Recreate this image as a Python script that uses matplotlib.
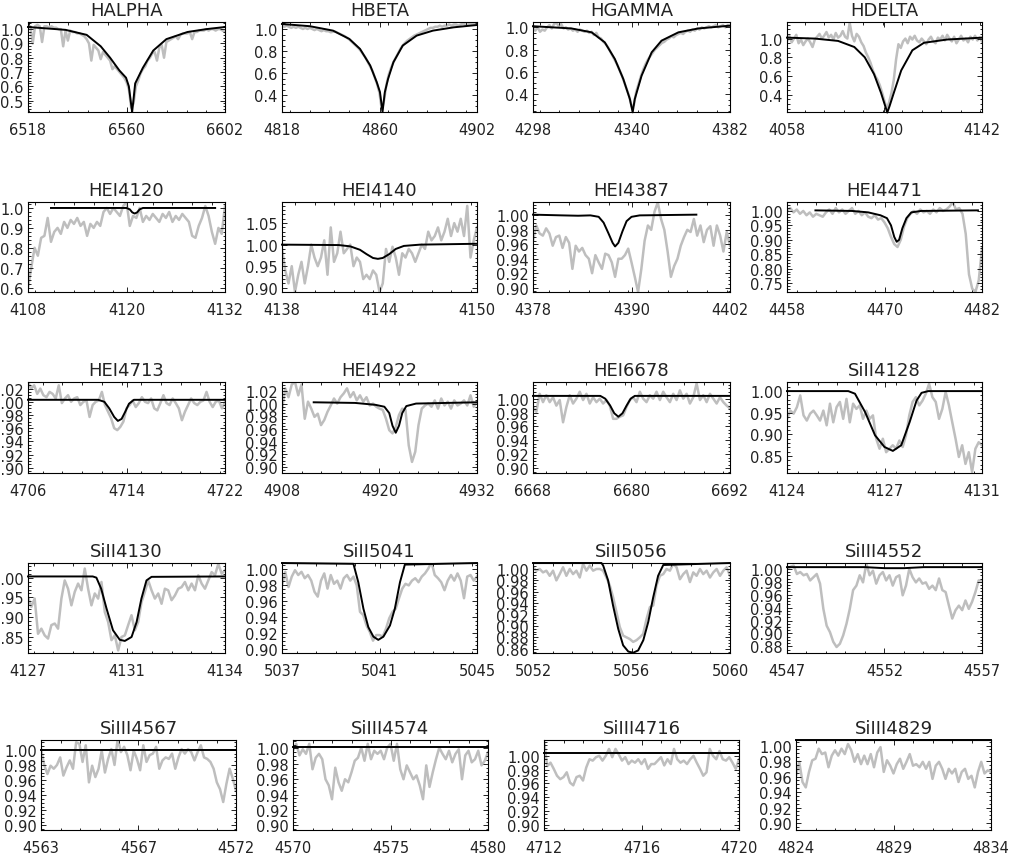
import matplotlib
matplotlib.use("Agg")
import matplotlib.pyplot as plt
from matplotlib.ticker import FixedLocator, MultipleLocator, AutoMinorLocator, FormatStrFormatter
import numpy as np

plt.rcParams['font.family'] = ['DejaVu Sans']

W, H = 1010, 854
GRAY = '#bebebe'

# ---------------- data (observed = gray, model = black) ----------------
halpha_rng = (6518, 6602)
halpha_obs = [1.02, 1.02, 0.90, 1.02, 1.03, 1.02, 0.91, 1.02, 1.02, 1.01,
              1.02, 1.01, 1.01, 1.00, 1.00, 0.88, 0.99, 0.92, 0.99, 0.98,
              0.98, 0.97, 0.97, 0.96, 0.95, 0.93, 0.90, 0.78, 0.89, 0.87,
              0.85, 0.79, 0.84, 0.82, 0.80, 0.78, 0.72, 0.74, 0.72, 0.70,
              0.68, 0.66, 0.63, 0.58, 0.45, 0.48, 0.60, 0.64, 0.69, 0.72,
              0.74, 0.78, 0.80, 0.83, 0.84, 0.78, 0.87, 0.89, 0.80, 0.91,
              0.92, 0.93, 0.94, 0.95, 0.93, 0.96, 0.97, 0.97, 0.97, 0.98,
              0.93, 0.98, 0.98, 0.99, 0.99, 0.99, 1.00, 0.99, 1.00, 1.00,
              0.99, 1.00, 1.00, 0.99, 0.98]
halpha_mx = [6518, 6534, 6543, 6549, 6553, 6557, 6559.8, 6561.0, 6562.0, 6562.4,
             6563.0, 6563.7, 6564.6, 6567, 6571.4, 6577, 6586, 6594, 6602]
halpha_my = [1.015, 0.995, 0.96, 0.88, 0.80, 0.71, 0.66, 0.60, 0.47, 0.42,
             0.51, 0.62, 0.65, 0.73, 0.85, 0.93, 0.98, 1.00, 1.015]

hbeta_rng = (4818, 4902)
hbeta_obs = [1.03, 1.02, 1.03, 1.02, 1.01, 1.02, 1.01, 1.02, 1.01, 1.00,
             1.01, 1.00, 1.01, 1.00, 0.99, 1.00, 0.99, 0.98, 0.99, 0.98,
             0.98, 0.97, 0.975, 0.975, 0.965, 0.955, 0.945, 0.935, 0.92, 0.905,
             0.885, 0.865, 0.845, 0.825, 0.80, 0.77, 0.74, 0.70, 0.66, 0.62,
             0.56, 0.50, 0.42, 0.27, 0.36, 0.50, 0.59, 0.65, 0.70, 0.74,
             0.78, 0.82, 0.85, 0.875, 0.895, 0.91, 0.925, 0.94, 0.95, 0.96,
             0.97, 0.98, 0.99, 1.00, 1.01, 1.01, 1.02, 1.02, 1.03, 1.02,
             1.03, 1.03, 1.04, 1.03, 1.04, 1.04, 1.03, 1.04, 1.05, 1.04,
             1.04, 1.05, 1.04, 1.05, 1.05]
hbeta_mx = [4818, 4830, 4840, 4847, 4851.6, 4856, 4858.8, 4860.2, 4861.3, 4862.3,
            4863.7, 4866, 4870, 4876, 4883, 4892, 4902]
hbeta_my = [1.045, 1.025, 0.985, 0.91, 0.82, 0.67, 0.52, 0.43, 0.25, 0.43,
            0.55, 0.70, 0.85, 0.94, 0.985, 1.015, 1.036]

hgamma_rng = (4298, 4382)
hgamma_obs = [0.99, 0.97, 1.00, 0.96, 0.98, 0.97, 1.00, 1.02, 0.99, 1.03,
              1.04, 1.01, 1.03, 0.99, 1.00, 0.98, 0.99, 0.97, 0.98, 0.96,
              0.98, 0.97, 0.96, 0.97, 0.95, 0.96, 0.93, 0.95, 0.91, 0.90,
              0.87, 0.85, 0.82, 0.78, 0.74, 0.70, 0.66, 0.61, 0.56, 0.50,
              0.44, 0.38, 0.29, 0.30, 0.42, 0.49, 0.56, 0.62, 0.67, 0.71,
              0.74, 0.77, 0.80, 0.82, 0.84, 0.86, 0.87, 0.89, 0.90, 0.92,
              0.91, 0.93, 0.94, 0.95, 0.94, 0.96, 0.97, 0.96, 0.98, 0.97,
              0.99, 0.98, 1.00, 0.99, 1.00, 1.01, 1.00, 1.01, 1.02, 1.00,
              1.01, 1.02, 1.00, 1.02, 1.01]
hgamma_mx = [4298, 4314.4, 4323, 4328.6, 4332.9, 4336.5, 4339.3, 4340.5, 4341.4,
             4344.3, 4348.6, 4352.8, 4360, 4368.5, 4382]
hgamma_my = [1.01, 0.99, 0.955, 0.865, 0.715, 0.535, 0.355, 0.235, 0.355,
             0.565, 0.775, 0.88, 0.955, 0.99, 1.015]

hdelta_rng = (4058, 4142)
hdelta_obs = [0.97, 1.03, 0.96, 1.00, 1.04, 0.95, 0.99, 0.93, 0.97, 1.00,
              0.96, 0.91, 0.99, 1.02, 1.05, 1.00, 1.03, 1.07, 1.01, 1.04,
              0.99, 1.06, 1.01, 1.03, 1.08, 1.02, 1.00, 1.17, 1.03, 0.97,
              1.05, 1.02, 0.96, 0.92, 0.85, 0.80, 0.74, 0.66, 0.60, 0.56,
              0.50, 0.42, 0.33, 0.25, 0.32, 0.42, 0.56, 0.78, 0.94, 0.90,
              0.97, 1.00, 0.95, 1.02, 0.99, 1.03, 0.98, 0.96, 1.00, 0.97,
              0.94, 0.99, 1.02, 0.97, 0.95, 1.01, 0.99, 1.03, 0.98, 1.04,
              1.00, 0.97, 1.02, 0.95, 0.99, 1.03, 0.98, 1.00, 0.96, 1.02,
              0.99, 1.03, 0.98, 1.01, 0.97]
hdelta_mx = [4058, 4070, 4080, 4087, 4091.5, 4095.5, 4098.5, 4100.3, 4101.2,
             4102.2, 4104, 4107.2, 4112, 4117, 4127, 4142]
hdelta_my = [1.01, 1.0, 0.975, 0.91, 0.80, 0.62, 0.42, 0.28, 0.21,
             0.28, 0.42, 0.66, 0.875, 0.955, 0.99, 1.01]

hei4120_rng = (4108, 4132)
hei4120_obs = [0.60, 0.70, 0.80, 0.76, 0.85, 0.86, 0.95, 0.83, 0.88, 0.90,
               0.87, 0.93, 0.90, 0.94, 0.92, 0.95, 0.91, 0.93, 0.86, 0.92,
               0.90, 0.93, 0.91, 0.98, 1.00, 0.97, 1.00, 0.98, 0.96, 1.01,
               1.03, 0.91, 0.96, 0.95, 1.00, 0.93, 0.96, 0.94, 0.97, 0.95,
               0.93, 0.97, 0.95, 0.98, 0.93, 0.96, 0.94, 0.97, 0.95, 0.93,
               0.86, 0.85, 0.91, 0.95, 1.01, 0.96, 0.88, 0.82, 0.90, 0.87,
               1.01]
hei4120_mx = [4110.8, 4120.0, 4120.4, 4120.7, 4121.0, 4121.3, 4121.6, 4122.0, 4130.8]
hei4120_my = [1.0, 1.0, 0.993, 0.978, 0.972, 0.978, 0.993, 1.0, 1.0]

hei4140_rng = (4138, 4150)
hei4140_obs = [0.99, 0.94, 0.91, 0.95, 0.89, 0.93, 0.96, 0.91, 0.95, 1.00,
               0.97, 0.95, 0.97, 1.01, 0.93, 1.04, 0.96, 0.98, 1.03, 0.98,
               0.99, 1.00, 0.95, 0.97, 0.96, 0.92, 0.93, 0.92, 0.94, 0.93,
               0.89, 0.91, 0.99, 0.96, 0.995, 0.97, 0.93, 0.98, 0.97, 0.99,
               0.98, 0.96, 0.98, 1.00, 0.99, 1.03, 1.01, 1.02, 1.04, 1.01,
               1.03, 1.06, 1.02, 1.05, 1.03, 1.06, 1.02, 1.09, 0.97, 1.01,
               1.04]
hei4140_mx = [4138, 4141.5, 4142.2, 4142.8, 4143.2, 4143.6, 4143.9, 4144.2, 4144.6,
              4145.0, 4145.5, 4146.5, 4150]
hei4140_my = [1.0, 0.999, 0.996, 0.988, 0.978, 0.969, 0.967, 0.969, 0.978,
              0.99, 0.997, 1.0, 1.002]

hei4387_rng = (4378, 4402)
hei4387_obs = [0.965, 0.986, 0.975, 0.972, 0.982, 0.975, 0.958, 0.97, 0.972, 0.955,
               0.97, 0.962, 0.926, 0.958, 0.95, 0.955, 0.945, 0.94, 0.92, 0.945,
               0.935, 0.926, 0.947, 0.945, 0.935, 0.915, 0.94, 0.94, 0.945, 0.954,
               0.935, 0.915, 0.894, 0.926, 0.965, 0.986, 0.98, 1.005, 1.018, 0.995,
               0.98, 0.95, 0.915, 0.93, 0.94, 0.958, 0.97, 0.98, 0.977, 0.995,
               0.972, 0.986, 0.963, 0.98, 0.985, 0.958, 0.986, 0.972, 0.95, 0.977,
               0.958]
hei4387_mx = [4378, 4381.5, 4383.5, 4385, 4386.0, 4386.6, 4387.2, 4387.7, 4388.0,
              4388.4, 4388.9, 4389.4, 4390.0, 4391, 4397.9]
hei4387_my = [1.001, 1.0, 0.9995, 1.0, 0.998, 0.99, 0.975, 0.962, 0.957,
              0.962, 0.978, 0.992, 0.998, 1.0, 1.001]

hei4471_rng = (4458, 4482)
hei4471_obs = [1.00, 1.01, 0.995, 1.005, 0.99, 1.00, 0.985, 0.995, 0.98, 0.99,
               0.985, 0.98, 0.995, 1.005, 0.99, 1.01, 0.995, 1.005, 0.99, 1.00,
               1.01, 0.99, 1.00, 0.985, 0.995, 0.98, 0.975, 0.985, 0.97, 0.975,
               0.96, 0.94, 0.91, 0.885, 0.875, 0.90, 0.945, 0.975, 0.99, 1.00,
               0.99, 1.005, 0.995, 1.00, 0.99, 1.005, 0.995, 1.01, 1.00, 1.005,
               1.015, 1.03, 1.005, 1.01, 0.99, 0.92, 0.78, 0.73, 0.72, 0.76,
               0.87]
hei4471_mx = [4461.5, 4466, 4468, 4469.5, 4470.3, 4470.8, 4471.2, 4471.5, 4471.8,
              4472.2, 4472.7, 4473.3, 4474.5, 4481.5]
hei4471_my = [1.002, 1.0, 0.995, 0.985, 0.975, 0.95, 0.91, 0.893, 0.90,
              0.94, 0.975, 0.995, 1.0, 1.002]

hei4713_rng = (4706, 4722)
hei4713_obs = [1.03, 1.02, 1.025, 1.012, 1.02, 1.01, 1.007, 1.015, 1.012, 1.005,
               1.025, 0.998, 1.005, 1.01, 1.0, 1.005, 1.007, 0.995, 1.0, 1.002,
               0.977, 0.995, 1.0, 1.002, 1.015, 0.995, 0.985, 0.975, 0.96, 0.957,
               0.962, 0.97, 0.99, 0.995, 1.002, 0.992, 0.998, 1.007, 1.0, 0.998,
               1.005, 0.99, 0.987, 0.998, 1.01, 0.998, 0.995, 1.005, 0.998, 0.99,
               0.972, 0.985, 0.995, 1.005, 0.998, 0.995, 1.0, 1.002, 1.015, 1.0,
               0.992, 1.0, 1.002, 0.99, 1.0]
hei4713_mx = [4706, 4711.7, 4712.2, 4712.6, 4713.0, 4713.3, 4713.6, 4713.9, 4714.2,
              4714.6, 4722]
hei4713_my = [1.003, 1.003, 1.0, 0.99, 0.977, 0.971, 0.974, 0.985, 0.997,
              1.003, 1.003]

hei4922_rng = (4908, 4932)
hei4922_obs = [0.99, 1.024, 1.01, 1.03, 1.034, 1.013, 1.03, 0.976, 1.003, 0.992,
               0.979, 0.984, 0.966, 0.974, 0.987, 0.997, 1.008, 1.0, 1.01, 1.016,
               1.024, 1.01, 1.018, 1.005, 1.013, 1.003, 1.01, 0.997, 1.0, 0.995,
               0.992, 0.99, 0.976, 0.958, 0.953, 0.963, 0.982, 0.992, 0.99, 0.934,
               0.908, 0.924, 0.966, 0.992, 0.997, 1.0, 0.995, 1.005, 0.992, 1.008,
               0.997, 1.003, 0.992, 1.005, 0.997, 1.0, 1.005, 0.997, 1.013, 0.995,
               1.003]
hei4922_mx = [4911.9, 4917, 4919.5, 4920.6, 4921.2, 4921.6, 4922.0, 4922.4, 4922.8,
              4923.3, 4924.5, 4932]
hei4922_my = [1.002, 1.001, 0.998, 0.995, 0.985, 0.965, 0.954, 0.965, 0.985,
              0.996, 1.0, 1.002]

hei6678_rng = (6668, 6692)
hei6678_obs = [0.988, 0.981, 1.007, 0.995, 1.005, 0.995, 1.002, 0.99, 0.998, 0.966,
               0.988, 1.005, 0.993, 1.0, 1.01, 0.998, 1.007, 0.993, 1.002, 0.995,
               1.0, 0.993, 0.998, 0.99, 0.971, 0.971, 0.974, 0.976, 0.988, 0.998,
               1.002, 0.995, 1.01, 1.0, 0.995, 1.005, 1.0, 1.01, 0.998, 1.01,
               1.002, 0.995, 1.007, 0.998, 1.012, 1.0, 1.007, 0.993, 1.002, 1.022,
               0.998, 1.005, 0.995, 1.007, 1.0, 0.993, 1.002, 0.995, 0.99, 0.986]
hei6678_mx = [6668, 6676.2, 6676.8, 6677.4, 6677.9, 6678.4, 6678.9, 6679.4, 6679.9,
              6680.4, 6692]
hei6678_my = [1.004, 1.004, 1.0, 0.99, 0.979, 0.974, 0.979, 0.99, 1.0,
              1.004, 1.004]

siii4128_rng = (4124, 4131)
siii4128_obs = [0.936, 0.955, 0.948, 0.963, 0.99, 0.944, 0.932, 0.948, 0.955, 0.944,
                0.932, 0.955, 0.921, 0.971, 0.928, 0.963, 0.975, 0.936, 0.982, 0.928,
                0.971, 0.959, 0.967, 0.936, 0.955, 0.936, 0.944, 0.89, 0.867, 0.89,
                0.859, 0.867, 0.875, 0.867, 0.886, 0.871, 0.898, 0.944, 0.975, 0.986,
                0.967, 0.978, 0.994, 1.017, 0.986, 0.975, 0.936, 0.959, 0.998, 0.967,
                0.928, 0.89, 0.848, 0.875, 0.832, 0.859, 0.813, 0.867, 0.882, 0.875]
siii4128_mx = [4124, 4126.2, 4126.44, 4126.8, 4127.16, 4127.5, 4127.8, 4128.1, 4128.4,
               4128.65, 4128.83, 4129.07, 4131]
siii4128_my = [1.0, 1.0, 0.994, 0.952, 0.898, 0.871, 0.862, 0.875, 0.928,
               0.978, 0.996, 1.0, 1.0]

siii4130_rng = (4127, 4134)
siii4130_obs = [0.951, 0.926, 0.947, 0.858, 0.871, 0.854, 0.846, 0.88, 0.884, 0.871,
                0.947, 0.993, 0.972, 0.93, 0.964, 0.985, 0.968, 1.023, 0.972, 0.93,
                0.96, 0.947, 0.989, 0.913, 0.888, 0.842, 0.854, 0.816, 0.85, 0.854,
                0.88, 0.905, 0.867, 0.888, 0.938, 0.964, 0.993, 0.968, 0.947, 0.96,
                0.934, 0.972, 0.968, 0.943, 0.955, 0.972, 0.976, 0.989, 0.968, 0.985,
                0.968, 1.006, 0.985, 0.972, 0.993, 1.014, 1.006, 1.035, 1.01, 1.019]
siii4130_mx = [4127, 4129.3, 4129.43, 4129.6, 4129.79, 4130.02, 4130.26, 4130.44, 4130.68,
               4130.86, 4131.03, 4131.21, 4131.39, 4134]
siii4130_my = [1.003, 1.003, 1.0, 0.972, 0.922, 0.867, 0.843, 0.84, 0.85,
               0.888, 0.947, 0.993, 1.002, 1.003]

siii5041_rng = (5037, 5045)
siii5041_obs = [0.979, 0.996, 0.977, 0.99, 0.998, 0.992, 0.996, 0.988, 0.992, 0.985,
                0.971, 0.965, 0.985, 0.994, 0.975, 0.992, 0.981, 0.985, 0.975, 0.988,
                0.992, 0.985, 0.99, 0.979, 0.946, 0.942, 0.929, 0.921, 0.91, 0.917,
                0.917, 0.915, 0.925, 0.938, 0.946, 0.95, 0.963, 0.975, 0.981, 0.979,
                0.985, 0.988, 0.983, 0.99, 0.994, 1.0, 1.008, 0.992, 0.988, 0.983,
                0.973, 0.985, 0.992, 0.985, 0.994, 0.985, 0.963, 0.99, 0.992, 0.985,
                0.99]
siii5041_mx = [5037, 5039.93, 5040.13, 5040.34, 5040.54, 5040.75, 5040.95, 5041.16,
               5041.43, 5041.63, 5041.84, 5042.04, 5045]
siii5041_my = [1.007, 1.006, 0.983, 0.95, 0.927, 0.915, 0.911, 0.915,
               0.929, 0.95, 0.983, 1.005, 1.007]

siii5056_rng = (5052, 5060)
siii5056_obs = [1.003, 0.997, 1.0, 0.994, 0.997, 0.988, 0.997, 0.98, 0.991, 1.003,
                0.988, 1.0, 0.991, 0.997, 0.985, 1.009, 0.997, 1.006, 0.997, 1.0,
                1.0, 0.997, 0.985, 0.971, 0.95, 0.924, 0.898, 0.883, 0.88, 0.877,
                0.872, 0.875, 0.88, 0.886, 0.912, 0.933, 0.936, 0.971, 0.988, 0.991,
                1.0, 0.997, 1.009, 1.003, 0.982, 0.991, 0.997, 0.977, 0.994, 0.988,
                1.0, 0.991, 0.997, 0.985, 0.994, 1.0, 0.988, 0.997, 1.003, 0.988]
siii5056_mx = [5052, 5054.78, 5054.85, 5055.05, 5055.25, 5055.46, 5055.66, 5055.87,
               5056.07, 5056.27, 5056.48, 5056.68, 5056.88, 5057.08, 5057.29, 5060]
siii5056_my = [1.0105, 1.0105, 1.006, 0.98, 0.936, 0.895, 0.866, 0.855,
               0.853, 0.857, 0.875, 0.907, 0.95, 0.988, 1.007, 1.0105]

siiii4552_rng = (4547, 4557)
siiii4552_obs = [1.0, 1.003, 1.005, 0.992, 0.995, 0.99, 0.992, 0.982, 0.987, 0.992,
                 0.977, 0.938, 0.912, 0.902, 0.887, 0.879, 0.884, 0.897, 0.915, 0.938,
                 0.967, 0.974, 0.99, 0.979, 1.008, 0.99, 0.997, 0.977, 0.99, 0.995,
                 0.982, 0.99, 0.974, 0.987, 0.99, 0.959, 0.974, 1.0, 0.987, 0.979,
                 0.985, 0.977, 0.979, 0.969, 0.974, 0.967, 0.985, 0.967, 0.964, 0.943,
                 0.923, 0.936, 0.943, 0.936, 0.951, 0.938, 0.949, 0.964, 0.982, 0.982]
siiii4552_mx = [4547, 4551.0, 4552.0, 4553.0, 4554, 4557]
siiii4552_my = [1.0026, 1.0026, 1.001, 1.001, 1.0026, 1.0026]

siiii4567_rng = (4563, 4572)
siiii4567_obs = [1.001, 0.98, 0.968, 0.979, 0.975, 0.98, 0.99, 0.966, 0.977, 0.986,
                 0.975, 1.01, 1.008, 0.984, 1.006, 0.957, 0.979, 0.964, 0.975, 0.999,
                 0.97, 0.988, 1.001, 0.98, 1.015, 0.997, 1.004, 0.993, 0.973, 0.999,
                 0.988, 0.973, 1.006, 0.984, 0.993, 0.995, 1.004, 0.975, 0.986, 0.99,
                 0.988, 0.995, 0.975, 0.99, 1.001, 0.995, 1.001, 0.997, 0.986, 0.997,
                 1.006, 0.99, 0.988, 0.984, 0.975, 0.957, 0.948, 0.931, 0.955, 0.975,
                 0.962, 0.946]
siiii4567_mx = [4563, 4572]
siiii4567_my = [1.0, 1.0]

siiii4574_rng = (4570, 4580)
siiii4574_obs = [0.997, 1.006, 0.991, 0.999, 0.993, 1.006, 0.973, 0.988, 0.993, 0.986,
                 0.96, 0.952, 0.934, 0.975, 0.956, 0.945, 0.96, 0.956, 0.969, 0.984,
                 0.988, 1.001, 0.984, 1.006, 0.986, 0.997, 0.993, 0.997, 0.986, 1.001,
                 1.006, 0.984, 1.006, 0.973, 0.96, 0.978, 0.969, 0.96, 0.965, 0.952,
                 0.934, 0.978, 0.95, 0.969, 0.986, 1.001, 0.993, 0.986, 0.997, 0.982,
                 0.993, 0.999, 0.96, 0.991, 0.997, 0.982, 0.986, 0.997, 0.978, 0.984,
                 0.995]
siiii4574_mx = [4570, 4580]
siiii4574_my = [1.002, 1.002]

siiii4716_rng = (4712, 4720)
siiii4716_obs = [1.022, 0.985, 0.99, 0.981, 0.971, 0.966, 0.969, 0.976, 0.961, 0.957,
                 0.969, 0.971, 0.964, 0.983, 0.995, 0.993, 0.998, 1.0, 0.993, 1.0,
                 1.01, 0.998, 1.01, 1.002, 0.993, 0.998, 0.988, 0.993, 0.99, 0.995,
                 0.988, 0.995, 0.981, 0.988, 0.988, 0.993, 0.998, 0.986, 0.995, 0.988,
                 1.01, 0.995, 0.99, 0.993, 0.988, 0.995, 1.0, 0.99, 0.981, 0.971,
                 0.976, 1.01, 1.0, 0.995, 1.007, 0.995, 0.993, 0.998, 0.99, 0.981,
                 0.995]
siiii4716_mx = [4712, 4720]
siiii4716_my = [1.004, 1.004]

siiii4829_rng = (4824, 4834)
siiii4829_obs = [0.961, 0.979, 0.953, 0.946, 0.966, 0.981, 0.983, 0.996, 0.989, 0.991,
                 0.972, 0.987, 0.994, 0.987, 0.996, 0.989, 1.002, 0.994, 0.979, 0.989,
                 0.976, 0.987, 0.976, 0.989, 0.972, 0.991, 0.998, 0.966, 0.981, 0.974,
                 0.964, 0.976, 0.983, 0.97, 0.979, 0.989, 0.974, 0.976, 0.972, 0.979,
                 0.97, 0.979, 0.957, 0.974, 0.979, 0.97, 0.957, 0.97, 0.964, 0.97,
                 0.953, 0.966, 0.97, 0.957, 0.961, 0.946, 0.966, 0.979, 0.964, 0.968,
                 0.966]
siiii4829_mx = [4824, 4834]
siiii4829_my = [1.0068, 1.0068]

# name, range, obs, model x, model y, ylim, yticks, yfmt, y minor, xlabels
panels = [
    ("HALPHA", halpha_rng, halpha_obs, halpha_mx, halpha_my, (0.42, 1.05),
     [0.5, 0.6, 0.7, 0.8, 0.9, 1.0], "%.1f", 5, ["6518", "6560", "6602"]),
    ("HBETA", hbeta_rng, hbeta_obs, hbeta_mx, hbeta_my, (0.25, 1.063),
     [0.4, 0.6, 0.8, 1.0], "%.1f", 4, ["4818", "4860", "4902"]),
    ("HGAMMA", hgamma_rng, hgamma_obs, hgamma_mx, hgamma_my, (0.238, 1.048),
     [0.4, 0.6, 0.8, 1.0], "%.1f", 4, ["4298", "4340", "4382"]),
    ("HDELTA", hdelta_rng, hdelta_obs, hdelta_mx, hdelta_my, (0.216, 1.177),
     [0.4, 0.6, 0.8, 1.0], "%.1f", 4, ["4058", "4100", "4142"]),
    ("HEI4120", hei4120_rng, hei4120_obs, hei4120_mx, hei4120_my, (0.578, 1.03),
     [0.6, 0.7, 0.8, 0.9, 1.0], "%.1f", 5, ["4108", "4120", "4132"]),
    ("HEI4140", hei4140_rng, hei4140_obs, hei4140_mx, hei4140_my, (0.89, 1.099),
     [0.90, 0.95, 1.00, 1.05], "%.2f", 5, ["4138", "4144", "4150"]),
    ("HEI4387", hei4387_rng, hei4387_obs, hei4387_mx, hei4387_my, (0.894, 1.0185),
     [0.90, 0.92, 0.94, 0.96, 0.98, 1.00], "%.2f", 4, ["4378", "4390", "4402"]),
    ("HEI4471", hei4471_rng, hei4471_obs, hei4471_mx, hei4471_my, (0.719, 1.031),
     [0.75, 0.80, 0.85, 0.90, 0.95, 1.00], "%.2f", 5, ["4458", "4470", "4482"]),
    ("HEI4713", hei4713_rng, hei4713_obs, hei4713_mx, hei4713_my, (0.892, 1.030),
     [0.90, 0.92, 0.94, 0.96, 0.98, 1.00, 1.02], "%.2f", 4, ["4706", "4714", "4722"]),
    ("HEI4922", hei4922_rng, hei4922_obs, hei4922_mx, hei4922_my, (0.8905, 1.034),
     [0.90, 0.92, 0.94, 0.96, 0.98, 1.00, 1.02], "%.2f", 4, ["4908", "4920", "4932"]),
    ("HEI6678", hei6678_rng, hei6678_obs, hei6678_mx, hei6678_my, (0.893, 1.024),
     [0.90, 0.92, 0.94, 0.96, 0.98, 1.00], "%.2f", 4, ["6668", "6680", "6692"]),
    ("SiII4128", siii4128_rng, siii4128_obs, siii4128_mx, siii4128_my, (0.811, 1.021),
     [0.85, 0.90, 0.95, 1.00], "%.2f", 5, ["4124", "4127", "4131"]),
    ("SiII4130", siii4130_rng, siii4130_obs, siii4130_mx, siii4130_my, (0.8095, 1.037),
     [0.85, 0.90, 0.95, 1.00], "%.2f", 5, ["4127", "4131", "4134"]),
    ("SiII5041", siii5041_rng, siii5041_obs, siii5041_mx, siii5041_my, (0.8946, 1.007),
     [0.90, 0.92, 0.94, 0.96, 0.98, 1.00], "%.2f", 4, ["5037", "5041", "5045"]),
    ("SiII5056", siii5056_rng, siii5056_obs, siii5056_mx, siii5056_my, (0.8525, 1.0105),
     [0.86, 0.88, 0.90, 0.92, 0.94, 0.96, 0.98, 1.00], "%.2f", 4, ["5052", "5056", "5060"]),
    ("SiIII4552", siiii4552_rng, siiii4552_obs, siiii4552_mx, siiii4552_my, (0.8697, 1.009),
     [0.88, 0.90, 0.92, 0.94, 0.96, 0.98, 1.00], "%.2f", 4, ["4547", "4552", "4557"]),
    ("SiIII4567", siiii4567_rng, siiii4567_obs, siiii4567_mx, siiii4567_my, (0.894, 1.013),
     [0.90, 0.92, 0.94, 0.96, 0.98, 1.00], "%.2f", 4, ["4563", "4567", "4572"]),
    ("SiIII4574", siiii4574_rng, siiii4574_obs, siiii4574_mx, siiii4574_my, (0.894, 1.011),
     [0.90, 0.92, 0.94, 0.96, 0.98, 1.00], "%.2f", 4, ["4570", "4575", "4580"]),
    ("SiIII4716", siiii4716_rng, siiii4716_obs, siiii4716_mx, siiii4716_my, (0.892, 1.023),
     [0.90, 0.92, 0.94, 0.96, 0.98, 1.00], "%.2f", 4, ["4712", "4716", "4720"]),
    ("SiIII4829", siiii4829_rng, siiii4829_obs, siiii4829_mx, siiii4829_my, (0.891, 1.0072),
     [0.90, 0.92, 0.94, 0.96, 0.98, 1.00], "%.2f", 4, ["4824", "4829", "4834"]),
]

# panel boxes in pixels (left, right) and (top, bottom)
cols = [(28, 225), (282, 477), (533, 730), (787, 982)]
cols_last = [(41, 236), (293, 488), (544, 739), (796, 991)]
rows = [(23, 113), (203, 293), (383, 474), (564, 654), (741, 831)]

fig = plt.figure(figsize=(W / 100, H / 100), dpi=100)

for i, (name, rng, obs, mx, my, ylim, yticks, yfmt, ymin_n, xlabels) in enumerate(panels):
    r, c = divmod(i, 4)
    left, right = (cols_last if r == 4 else cols)[c]
    top, bot = rows[r]
    ax = fig.add_axes([left / W, 1 - bot / H, (right - left) / W, (bot - top) / H])

    x0, x1 = rng
    xs = np.linspace(x0, x1, len(obs))
    ax.plot(xs, obs, color=GRAY, lw=1.8, zorder=1)
    ax.plot(mx, my, color='black', lw=1.4, zorder=3, clip_on=False)

    ax.set_xlim(x0, x1)
    ax.set_ylim(*ylim)
    ax.xaxis.set_major_locator(FixedLocator([x0, (x0 + x1) / 2, x1]))
    ax.set_xticklabels(xlabels)
    ax.xaxis.set_minor_locator(MultipleLocator((x1 - x0) / 10))
    ax.yaxis.set_major_locator(FixedLocator(yticks))
    ax.yaxis.set_major_formatter(FormatStrFormatter(yfmt))
    ax.yaxis.set_minor_locator(AutoMinorLocator(ymin_n))

    ax.tick_params(which='both', direction='in', top=True, right=True,
                   labelsize=10.5, colors='black', width=0.6)
    ax.tick_params(axis='x', which='both', pad=7, labelcolor='#222222')
    ax.tick_params(axis='y', which='both', pad=3, labelcolor='#222222')
    ax.tick_params(which='major', length=3.5)
    ax.tick_params(which='minor', length=1.8)
    for s in ax.spines.values():
        s.set_linewidth(0.8)
    ax.set_title(name, fontsize=13, pad=5, color='#222222')

fig.savefig("out.png", dpi=100)
